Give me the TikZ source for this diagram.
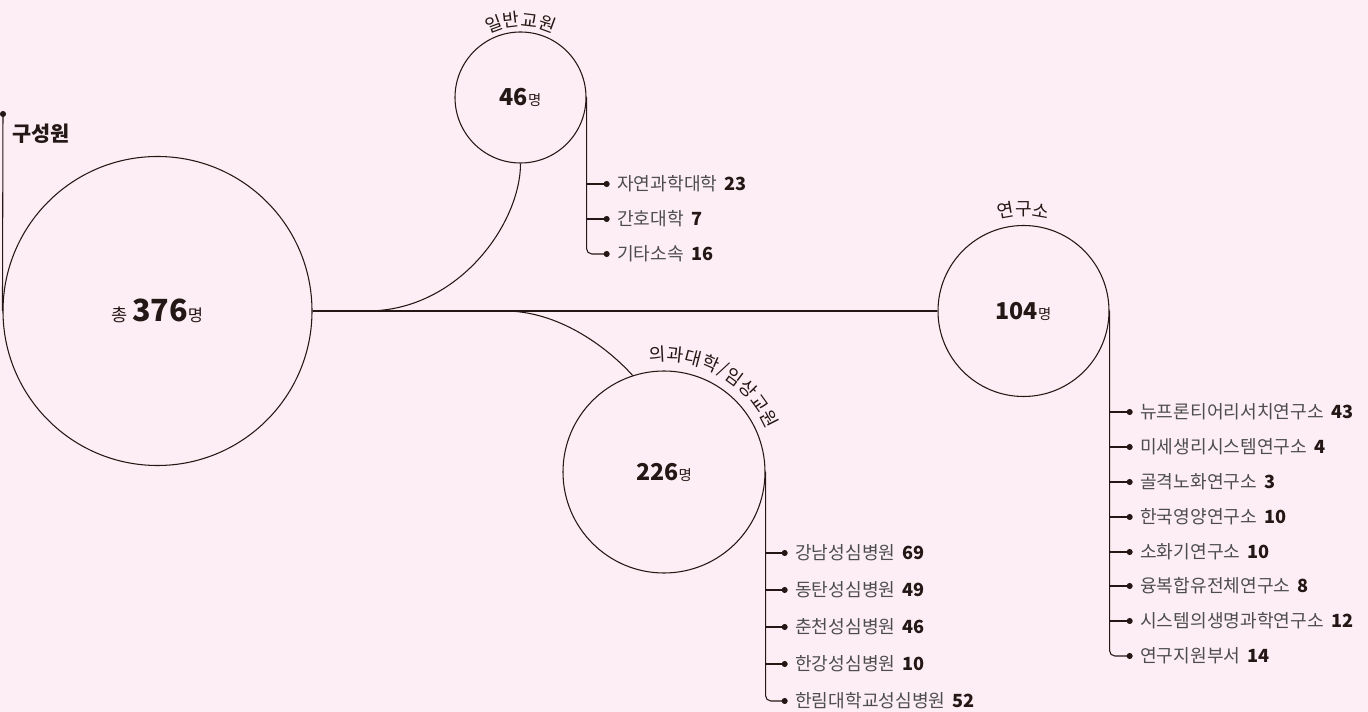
\documentclass[tikz,border=0pt]{standalone}
\usepackage{fontspec}
\setmainfont{Noto Sans CJK KR}
\usetikzlibrary{arrows.meta,decorations.text}
\definecolor{bg}{HTML}{FDEEF5}
\definecolor{ink}{HTML}{231815}
\definecolor{lbl}{HTML}{4D4D4D}
\newcommand{\arcfont}{\fontsize{13.6}{16}\selectfont\color{ink}}
\newcommand{\nm}[1]{\hspace{0.4em}{\bfseries\color{ink}#1}}
\begin{document}
\begin{tikzpicture}[x=0.75pt,y=-0.75pt,
  bub/.style={circle,draw=ink,line width=0.8pt,inner sep=0pt,text=ink},
  conn/.style={draw=ink,line width=0.8pt},
  item/.style={conn,-{Circle[length=4.5pt]}},
  lab/.style={anchor=west,inner sep=0pt,text=lbl,font=\fontsize{13.6}{16}\selectfont},
  arcch/.style={inner sep=0pt,text=ink,font=\fontsize{13.6}{16}\selectfont},
  arclab/.style={decorate,decoration={text along path,text align=center,text={|\arcfont|#1}}}
]
\fill[bg] (0,0) rectangle (1368,712);
\useasboundingbox (0,0) rectangle (1368,712);

% circles
\node[bub, minimum size=231.75pt] (total) at (157.5,311)
  {{\fontsize{13.2}{15}\selectfont 총}\hspace{0.3em}{\bfseries\fontsize{22.9}{26}\selectfont 376}{\fontsize{12.4}{14}\selectfont 명}};
\node[bub, minimum size=98.25pt] (gen) at (520.5,97.5)
  {{\bfseries\fontsize{17.5}{20}\selectfont 46}{\fontsize{10.8}{12}\selectfont 명}};
\node[bub, minimum size=128.25pt] (inst) at (1023.5,311)
  {{\bfseries\fontsize{17.4}{20}\selectfont 104}{\fontsize{10.8}{12}\selectfont 명}};
\node[bub, minimum size=151.5pt] (med) at (664,472)
  {{\bfseries\fontsize{17.4}{20}\selectfont 226}{\fontsize{10.8}{12}\selectfont 명}};

% title
\coordinate (ctop) at (3,111);
\draw[item] (total.west) -- (ctop);
\node[anchor=west,inner sep=0pt,text=ink,font=\bfseries\fontsize{15.6}{18}\selectfont] (title) at (12,134) {구성원};

% main connectors
\draw[conn] (total.east) -- (inst.west);
\draw[conn] (total.east) -- (367,311) .. controls (459,311) and (520.5,223) .. (gen.south);
\draw[conn] (total.east) -- (505,311) .. controls (557,311) and (605,345) .. (med.108);

% arc labels
\path[arclab=일반교원] (gen.center) ++(-125:71) arc[start angle=-125,end angle=-55,radius=71];
\path[arclab=연구소] (inst.center) ++(-125:95) arc[start angle=-125,end angle=-55,radius=95];
\path (med.center) ++(-93:118) node[arcch,rotate=3] (a1) {의};
\path (med.center) ++(-84.2:118) node[arcch,rotate=-5.8] (a2) {과};
\path (med.center) ++(-75.4:118) node[arcch,rotate=-14.6] (a3) {대};
\path (med.center) ++(-66.6:118) node[arcch,rotate=-23.4] (a4) {학};
\path (med.center) ++(-60:118) node[arcch,rotate=-30] (a5) {/};
\path (med.center) ++(-53.4:118) node[arcch,rotate=-36.6] (a6) {임};
\path (med.center) ++(-44.6:118) node[arcch,rotate=-45.4] (a7) {상};
\path (med.center) ++(-35.8:118) node[arcch,rotate=-54.2] (a8) {교};
\path (med.center) ++(-27:118) node[arcch,rotate=-63] (a9) {원};

% general faculty items
\node[lab] (g1) at (617,184) {자연과학대학\nm{23}};
\node[lab] (g2) at (617,219) {간호대학\nm{7}};
\node[lab] (g3) at (617,254) {기타소속\nm{16}};
\draw[item] (gen.east |- g1.west) -- ([xshift=-5.5pt]g1.west);
\draw[item] (gen.east |- g2.west) -- ([xshift=-5.5pt]g2.west);
\draw[item,rounded corners=4pt] (gen.east) |- ([xshift=-5.5pt]g3.west);

% medical items
\node[lab] (m1) at (795,553) {강남성심병원\nm{69}};
\node[lab] (m2) at (795,590) {동탄성심병원\nm{49}};
\node[lab] (m3) at (795,627) {춘천성심병원\nm{46}};
\node[lab] (m4) at (795,664) {한강성심병원\nm{10}};
\node[lab] (m5) at (795,701) {한림대학교성심병원\nm{52}};
\draw[item] (med.east |- m1.west) -- ([xshift=-5.5pt]m1.west);
\draw[item] (med.east |- m2.west) -- ([xshift=-5.5pt]m2.west);
\draw[item] (med.east |- m3.west) -- ([xshift=-5.5pt]m3.west);
\draw[item] (med.east |- m4.west) -- ([xshift=-5.5pt]m4.west);
\draw[item,rounded corners=4pt] (med.east) |- ([xshift=-5.5pt]m5.west);

% institute items
\node[lab] (r1) at (1140,412) {뉴프론티어리서치연구소\nm{43}};
\node[lab] (r2) at (1140,447) {미세생리시스템연구소\nm{4}};
\node[lab] (r3) at (1140,482) {골격노화연구소\nm{3}};
\node[lab] (r4) at (1140,517) {한국영양연구소\nm{10}};
\node[lab] (r5) at (1140,552) {소화기연구소\nm{10}};
\node[lab] (r6) at (1140,586) {융복합유전체연구소\nm{8}};
\node[lab] (r7) at (1140,621) {시스템의생명과학연구소\nm{12}};
\node[lab] (r8) at (1140,656) {연구지원부서\nm{14}};
\foreach \i in {1,...,7}{
  \draw[item] (inst.east |- r\i.west) -- ([xshift=-5.5pt]r\i.west);
}
\draw[item,rounded corners=4pt] (inst.east) |- ([xshift=-5.5pt]r8.west);
\end{tikzpicture}
\end{document}
